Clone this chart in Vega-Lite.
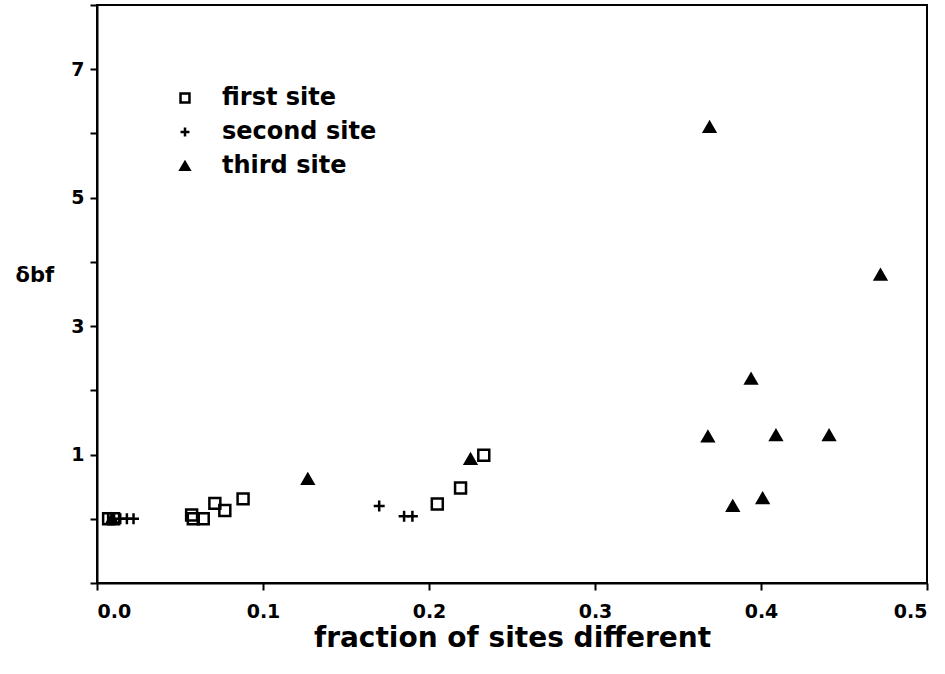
{
  "$schema": "https://vega.github.io/schema/vega-lite/v6.json",
  "width": 830,
  "height": 578,
  "autosize": {"type": "none"},
  "padding": {"left": 97, "top": 5, "right": 18, "bottom": 91},
  "background": "white",
  "config": {
    "view": {"stroke": "black", "strokeWidth": 2},
    "font": "DejaVu Sans",
    "axis": {
      "domainColor": "black",
      "domainWidth": 2,
      "tickColor": "black",
      "tickWidth": 2,
      "tickSize": 7,
      "grid": false,
      "labelFont": "DejaVu Sans",
      "labelFontWeight": "bold",
      "labelFontSize": 19,
      "labelColor": "black",
      "titleFont": "DejaVu Sans",
      "titleFontWeight": "bold",
      "titleColor": "black"
    },
    "legend": {
      "title": null,
      "padding": 0,
      "labelFont": "DejaVu Sans",
      "labelFontWeight": "bold",
      "labelFontSize": 24,
      "labelColor": "black",
      "labelOffset": 25,
      "rowPadding": 10,
      "symbolSize": 80,
      "symbolStrokeWidth": 2.5
    }
  },
  "data": {
    "values": [
      {"x": 0.007, "y": 0.0, "site": "first site"},
      {"x": 0.010, "y": 0.0, "site": "first site"},
      {"x": 0.057, "y": 0.06, "site": "first site"},
      {"x": 0.058, "y": 0.0, "site": "first site"},
      {"x": 0.064, "y": 0.0, "site": "first site"},
      {"x": 0.071, "y": 0.24, "site": "first site"},
      {"x": 0.077, "y": 0.13, "site": "first site"},
      {"x": 0.088, "y": 0.31, "site": "first site"},
      {"x": 0.205, "y": 0.23, "site": "first site"},
      {"x": 0.219, "y": 0.48, "site": "first site"},
      {"x": 0.233, "y": 0.99, "site": "first site"},
      {"x": 0.014, "y": 0.0, "site": "second site"},
      {"x": 0.018, "y": 0.0, "site": "second site"},
      {"x": 0.022, "y": 0.0, "site": "second site"},
      {"x": 0.170, "y": 0.20, "site": "second site"},
      {"x": 0.185, "y": 0.04, "site": "second site"},
      {"x": 0.190, "y": 0.04, "site": "second site"},
      {"x": 0.009, "y": 0.0, "site": "third site"},
      {"x": 0.127, "y": 0.62, "site": "third site"},
      {"x": 0.225, "y": 0.93, "site": "third site"},
      {"x": 0.368, "y": 1.28, "site": "third site"},
      {"x": 0.369, "y": 6.1, "site": "third site"},
      {"x": 0.383, "y": 0.20, "site": "third site"},
      {"x": 0.394, "y": 2.18, "site": "third site"},
      {"x": 0.401, "y": 0.32, "site": "third site"},
      {"x": 0.409, "y": 1.30, "site": "third site"},
      {"x": 0.441, "y": 1.30, "site": "third site"},
      {"x": 0.472, "y": 3.8, "site": "third site"}
    ]
  },
  "mark": {"type": "point", "strokeWidth": 2.5, "size": 120, "opacity": 1},
  "encoding": {
    "x": {
      "field": "x",
      "type": "quantitative",
      "scale": {"domain": [0, 0.5], "nice": false, "zero": false},
      "axis": {
        "values": [0, 0.1, 0.2, 0.3, 0.4, 0.5],
        "format": ".1f",
        "labelPadding": 12,
        "title": "fraction of sites different",
        "titleFontSize": 28,
        "titlePadding": 3
      }
    },
    "y": {
      "field": "y",
      "type": "quantitative",
      "scale": {"domain": [-1, 8], "nice": false, "zero": false},
      "axis": {
        "values": [-1, 0, 1, 2, 3, 4, 5, 6, 7, 8],
        "labelExpr": "datum.value > 0 && datum.value % 2 == 1 ? datum.label : ''",
        "labelPadding": 6,
        "title": "δbf",
        "titleFontSize": 21,
        "titleAngle": 0,
        "titleAlign": "left",
        "titleBaseline": "middle",
        "titleX": -82,
        "titleY": 270
      }
    },
    "shape": {
      "field": "site",
      "type": "nominal",
      "scale": {
        "domain": ["first site", "second site", "third site"],
        "range": ["square", "M-1,0H1M0,-1V1", "triangle-up"]
      },
      "legend": {"orient": "none", "legendX": 76, "legendY": 81}
    },
    "fill": {
      "field": "site",
      "type": "nominal",
      "scale": {
        "domain": ["first site", "second site", "third site"],
        "range": ["transparent", "transparent", "black"]
      },
      "legend": {"orient": "none", "legendX": 76, "legendY": 81}
    },
    "stroke": {
      "field": "site",
      "type": "nominal",
      "scale": {
        "domain": ["first site", "second site", "third site"],
        "range": ["black", "black", "black"]
      },
      "legend": {"orient": "none", "legendX": 76, "legendY": 81}
    }
  }
}
